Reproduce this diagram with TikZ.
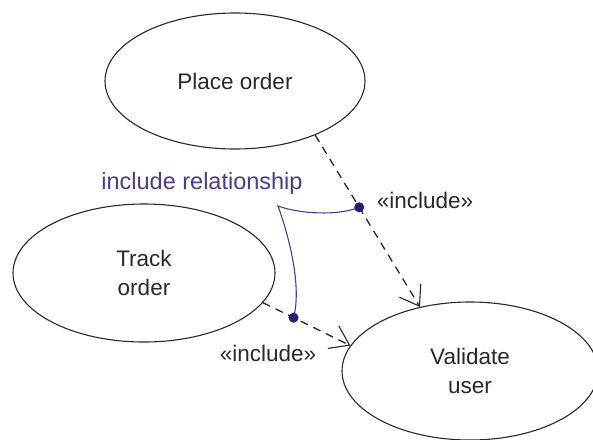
\documentclass[tikz,border=0pt]{standalone}
\usepackage{fontspec}
\setmainfont{Liberation Sans}
\usetikzlibrary{arrows.meta,calc,shapes.geometric}
\definecolor{ink}{RGB}{40,40,40}
\definecolor{notecol}{RGB}{82,58,135}
\definecolor{dotcol}{RGB}{38,28,115}
\begin{document}
\begin{tikzpicture}[x=1pt,y=-1pt,
  usecase/.style={draw=ink,line width=1.1pt,ellipse,inner sep=0pt,
    text=ink,align=center,font=\fontsize{22.5}{29}\selectfont},
  incl/.style={draw=ink,line width=1.3pt,dash pattern=on 8pt off 6pt,
    -{Straight Barb[length=18pt,width=25pt,line width=1.1pt]}},
  stereo/.style={text=ink,font=\fontsize{22.5}{26}\selectfont,inner sep=0pt},
  notecurve/.style={draw=notecol,line width=1.1pt},
  anchordot/.style={circle,fill=dotcol,inner sep=0pt,minimum size=10pt},
  notelabel/.style={text=notecol,font=\fontsize{23.5}{26}\selectfont,inner sep=0pt}]
\useasboundingbox (0,0) rectangle (593,439);

% use cases
\node[usecase,minimum width=260pt,minimum height=136pt] (place) at (235,81) {Place order};
\node[usecase,minimum width=262pt,minimum height=138pt] (track) at (144,273) {Track\\order};
\node[usecase,minimum width=256pt,minimum height=138pt] (validate) at (470,371) {Validate\\user};

% include dependencies
\draw[incl] (place.-34) -- (validate.128);
\draw[incl] (track.-14) -- (validate.168);

% stereotype labels
\node[stereo] (lblA) at (425,200) {«include»};
\node[stereo] (lblB) at (268,353) {«include»};

% annotation pointing at both dependencies
\coordinate (dotA) at ($(place.-34)!0.42!(validate.128)$);
\coordinate (dotB) at ($(track.-14)!0.35!(validate.168)$);
\coordinate (bend) at (278,206);
\draw[notecurve] (dotA) .. controls (338,216) and (300,214) .. (bend)
                 .. controls (292,245) and (301,290) .. (dotB);
\node[anchordot] (dA) at (dotA) {};
\node[anchordot] (dB) at (dotB) {};
\node[notelabel] (note) at (202,183) {include relationship};
\end{tikzpicture}
\end{document}
